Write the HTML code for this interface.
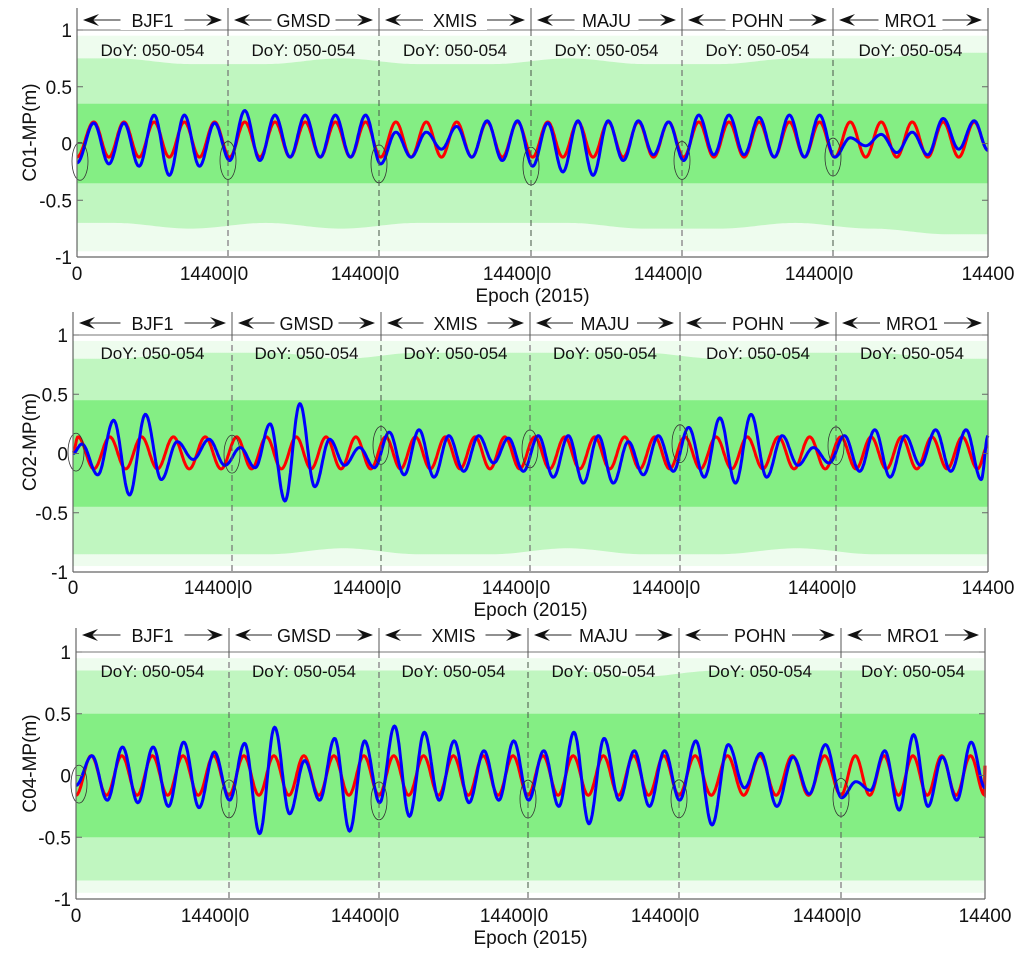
<!DOCTYPE html>
<html><head><meta charset="utf-8"><style>
html,body{margin:0;padding:0;background:#fff}
svg{display:block;font-family:"Liberation Sans",Arial,sans-serif}
</style></head><body>
<svg id="chart" width="1024" height="960" viewBox="0 0 1024 960" xmlns="http://www.w3.org/2000/svg"></svg>
<script>
// ---- data ----
const stations = ["BJF1","GMSD","XMIS","MAJU","POHN","MRO1"];
const yTicks = [1,0.5,0,-0.5,-1];
const yTickLabels = ["1","0.5","0","-0.5","-1"];
const xTickLabels = ["0","14400|0","14400|0","14400|0","14400|0","14400|0","14400"];
const panelTitles = ["C01-MP(m)","C02-MP(m)","C04-MP(m)"];
const doyText = "DoY: 050-054";
// blue extrema (peak, trough alternating) per panel
const blue1 = [0.18,-0.18,0.18,-0.2,0.25,-0.28,0.25,-0.2,0.18,-0.15,
               0.29,-0.15,0.25,-0.12,0.25,-0.12,0.25,-0.12,0.25,-0.18,
               0.1,-0.12,0.1,-0.05,0.15,-0.12,0.2,-0.15,0.2,-0.2,
               0.18,-0.25,0.2,-0.28,0.2,-0.15,0.2,-0.1,0.19,-0.15,
               0.25,-0.1,0.25,-0.1,0.23,-0.12,0.25,-0.12,0.25,-0.12,
               0.05,-0.02,0.08,-0.08,0.1,-0.1,0.22,-0.05,0.2,-0.2];
const blue2 = [0.08,-0.18,0.28,-0.35,0.33,-0.22,0.1,-0.05,0.12,-0.1,
               0.05,-0.12,0.25,-0.4,0.42,-0.28,0.12,-0.1,0.05,-0.12,
               0.18,-0.18,0.2,-0.2,0.15,-0.15,0.15,-0.08,0.13,-0.15,
               0.15,-0.2,0.15,-0.25,0.15,-0.25,0.1,-0.18,0.15,-0.15,
               0.22,-0.2,0.3,-0.25,0.33,-0.2,0.15,-0.1,0.05,-0.08,
               0.15,-0.15,0.2,-0.2,0.15,-0.1,0.2,-0.15,0.2,-0.22];
const blue3 = [0.16,-0.2,0.23,-0.22,0.23,-0.25,0.27,-0.26,0.19,-0.2,
               0.26,-0.47,0.39,-0.31,0.12,-0.2,0.3,-0.45,0.28,-0.22,
               0.4,-0.33,0.35,-0.2,0.28,-0.22,0.2,-0.2,0.28,-0.2,
               0.2,-0.25,0.35,-0.39,0.3,-0.2,0.2,-0.25,0.2,-0.2,
               0.28,-0.4,0.25,-0.1,0.18,-0.25,0.15,-0.15,0.25,-0.18,
               -0.05,-0.12,0.2,-0.28,0.33,-0.25,0.15,-0.2,0.27,-0.15];
const blueStart = [-0.17,0.0,-0.08];
const blueEnd = [-0.06,0.15,-0.1];
const redPeak = [0.19,0.14,0.16];
const redTrough = [-0.12,-0.13,-0.16];
const bluePhase = [1600,800,1500];
const redPhase = [1600,450,1430];
// green noise envelope (two values per station)
const greenOuterHi = [[0.75,0.7,0.7,0.75,0.7,0.7,0.75,0.7,0.7,0.75,0.75,0.8],
                      [0.8,0.85,0.85,0.8,0.85,0.85,0.85,0.85,0.8,0.85,0.85,0.8],
                      [0.85,0.85,0.85,0.85,0.85,0.85,0.85,0.8,0.85,0.85,0.85,0.85]];
const greenOuterLo = [[-0.7,-0.75,-0.7,-0.75,-0.7,-0.7,-0.7,-0.75,-0.75,-0.7,-0.75,-0.8],
                      [-0.85,-0.85,-0.85,-0.8,-0.85,-0.85,-0.8,-0.85,-0.85,-0.8,-0.85,-0.85],
                      [-0.85,-0.85,-0.85,-0.85,-0.85,-0.85,-0.85,-0.85,-0.85,-0.85,-0.85,-0.85]];
const greenInner = [[0.35,0.35,0.35,0.35,0.35,0.35,0.35,0.35,0.35,0.35,0.35,0.35],
                    [0.45,0.45,0.45,0.45,0.45,0.45,0.45,0.45,0.45,0.45,0.45,0.45],
                    [0.5,0.5,0.5,0.5,0.5,0.5,0.5,0.5,0.5,0.5,0.5,0.5]];

// ---- layout ----
const panels = [
 {left:77,right:988,top:8,y1:30,ybot:257,bounds:[77,228,379,531,682,833,988],hdr:20,doy:56,tick:280,ep:302},
 {left:73,right:988,top:312,y1:335,ybot:572,bounds:[73,232,381,530,680,836,988],hdr:323,doy:359,tick:594,ep:616},
 {left:76,right:985,top:628,y1:652,ybot:899,bounds:[76,229,379,528,679,841,985],hdr:635,doy:677,tick:922,ep:944}
];
const blues=[blue1,blue2,blue3];
const NS="http://www.w3.org/2000/svg";
const svg=document.getElementById('chart');
function mk(tag,attrs,parent){const e=document.createElementNS(NS,tag);for(const k in attrs)e.setAttribute(k,attrs[k]);(parent||svg).appendChild(e);return e;}
const TOTAL=86400, SEG=14400;

function cosInterp(times,vals,T){
  if(T<=times[0])return vals[0];
  for(let i=0;i<times.length-1;i++){
    if(T<=times[i+1]){const f=(T-times[i])/(times[i+1]-times[i]);return vals[i]+(vals[i+1]-vals[i])*(1-Math.cos(Math.PI*f))/2;}
  }
  return vals[vals.length-1];
}

panels.forEach((p,pi)=>{
  const g=mk('g',{});
  
  
  const yS=v=>p.y1+(1-v)*(p.ybot-p.y1)/2;
  const xS=T=>{let s=Math.min(5,Math.floor(T/SEG));const t=T-s*SEG;return p.bounds[s]+t/SEG*(p.bounds[s+1]-p.bounds[s]);};
  // green band
  const gTimes=[],gHi=[],gLo=[],gIn=[];
  for(let i=0;i<12;i++){gTimes.push((i+0.5)*SEG/2);gHi.push(greenOuterHi[pi][i]);gLo.push(greenOuterLo[pi][i]);gIn.push(greenInner[pi][i]);}
  let up=[],dn=[],iu=[],idn=[];
  for(let T=0;T<=TOTAL;T+=300){const x=xS(T).toFixed(1);
    up.push(x+','+yS(cosInterp(gTimes,gHi,T)).toFixed(1));dn.unshift(x+','+yS(cosInterp(gTimes,gLo,T)).toFixed(1));
    const a=cosInterp(gTimes,gIn,T);iu.push(x+','+yS(a).toFixed(1));idn.unshift(x+','+yS(-a).toFixed(1));}
  const gb=mk('polygon',{points:up.concat(dn).join(' '),fill:'#cdf8cd'},g);
  
  
  const gi=mk('polygon',{points:iu.concat(idn).join(' '),fill:'#8cf08c'},g);
  
  
  // vertical texture spikes
  for(let x=p.left+1;x<p.right;x+=2){
    mk('line',{x1:x,x2:x,y1:yS(0.95),y2:yS(-0.95),stroke:'#22dd22','stroke-width':0.5,opacity:0.3},g);
  }
  // red
  const rt=[0],rv=[redTrough[pi]];
  for(let k=0;;k++){const T=redPhase[pi]+k*1440;if(T>=TOTAL)break;rt.push(T);rv.push(k%2===0?redPeak[pi]:redTrough[pi]);}
  rt.push(TOTAL);rv.push(rv[rv.length-1]>0?redTrough[pi]*0.5:redPeak[pi]*0.5);
  rt[0]=0; rv[0]=(redPhase[pi]>1000)?redTrough[pi]:(redPeak[pi]+redTrough[pi])/2;
  let rp=[];for(let T=0;T<=TOTAL;T+=60)rp.push(xS(T).toFixed(1)+','+yS(cosInterp(rt,rv,T)).toFixed(1));
  const rl=mk('polyline',{points:rp.join(' '),fill:'none',stroke:'#ff0000','stroke-width':3},g);
  
  
  // blue
  const bt=[0],bv=[blueStart[pi]];const arr=blues[pi];
  for(let k=0;k<arr.length;k++){const T=bluePhase[pi]+k*1440;if(T>=TOTAL)break;bt.push(T);bv.push(arr[k]);}
  bt.push(TOTAL);bv.push(blueEnd[pi]);
  let bp=[];for(let T=0;T<=TOTAL;T+=60)bp.push(xS(T).toFixed(1)+','+yS(cosInterp(bt,bv,T)).toFixed(1));
  const bl=mk('polyline',{points:bp.join(' '),fill:'none',stroke:'#0000ff','stroke-width':3},g);
  
  
  // white header region
  mk('rect',{x:p.left,y:p.top-4,width:p.right-p.left,height:p.y1-p.top+4,fill:'#fff'},g);
  // ellipses at station boundaries
  for(let s=0;s<6;s++){
    const x=p.bounds[s]+(s===0?3:0);const v=cosInterp(bt,bv,s*SEG+200);
    const e=mk('ellipse',{cx:x,cy:yS(v),rx:8,ry:19,fill:'none',stroke:'#333','stroke-width':0.8},g);
    
    
  }
  // axes
  mk('line',{x1:p.left,y1:p.top,x2:p.left,y2:p.ybot,stroke:'#666','stroke-width':1.2},g);
  mk('line',{x1:p.right,y1:p.top,x2:p.right,y2:p.ybot,stroke:'#666','stroke-width':1.2},g);
  mk('line',{x1:p.left,y1:p.ybot,x2:p.right,y2:p.ybot,stroke:'#666','stroke-width':1.2},g);
  mk('line',{x1:p.left,y1:p.y1,x2:p.right,y2:p.y1,stroke:'#777','stroke-width':1},g);
  // separators
  for(let s=1;s<6;s++){
    const x=p.bounds[s];
    mk('line',{x1:x,y1:p.top,x2:x,y2:p.y1,stroke:'#555','stroke-width':1},g);
    const d=mk('line',{x1:x,y1:p.y1,x2:x,y2:p.ybot,stroke:'#555','stroke-width':1,'stroke-dasharray':'6,4'},g);
    
    
  }
  // y ticks
  yTicks.forEach((v,i)=>{
    const y=yS(v);
    mk('line',{x1:p.left,y1:y,x2:p.left+6,y2:y,stroke:'#666'},g);
    mk('line',{x1:p.right-6,y1:y,x2:p.right,y2:y,stroke:'#666'},g);
    const t=mk('text',{x:p.left-5,y:y+7,'text-anchor':'end','font-size':19,fill:'#111'},g);
    t.textContent=yTickLabels[i];
    
    
  });
  // x tick labels
  xTickLabels.forEach((lab,i)=>{
    const x=p.bounds[i];
    const t=mk('text',{x:x,y:p.tick,'text-anchor':'middle','font-size':19,fill:'#111'},g);
    if(i>0&&i<6){t.setAttribute('x',x+1);t.setAttribute('dx','-15');}
    t.textContent=lab;
    
    
  });
  // axis titles
  const ep=mk('text',{x:(p.left+p.right)/2,y:p.ep,'text-anchor':'middle','font-size':19,fill:'#111'},g);
  ep.textContent='Epoch (2015)';
  
  
  const cy=(p.top+p.ybot)/2;
  const yt=mk('text',{x:36,y:cy,'text-anchor':'middle','font-size':19,fill:'#111',transform:'rotate(-90 36 '+cy+')'},g);
  yt.textContent=panelTitles[pi];
  
  
  // station headers
  stations.forEach((st,s)=>{
    const a=p.bounds[s]+6,b=p.bounds[s+1]-6,m=(a+b)/2,y=p.hdr;
    mk('line',{x1:a+8,y1:y,x2:b-8,y2:y,stroke:'#222','stroke-width':1},g);
    mk('polygon',{points:`${a},${y} ${a+16},${y-6} ${a+10},${y} ${a+16},${y+6}`,fill:'#111'},g);
    mk('polygon',{points:`${b},${y} ${b-16},${y-6} ${b-10},${y} ${b-16},${y+6}`,fill:'#111'},g);
    mk('rect',{x:m-32,y:y-10,width:64,height:20,fill:'#fff'},g);
    const t=mk('text',{x:m,y:y+7,'text-anchor':'middle','font-size':18,fill:'#111'},g);
    t.textContent=st;
    
    
    const d=mk('text',{x:m,y:p.doy,'text-anchor':'middle','font-size':17,fill:'#111'},g);
    d.textContent=doyText;
    
    
  });
});
</script>
</body></html>
